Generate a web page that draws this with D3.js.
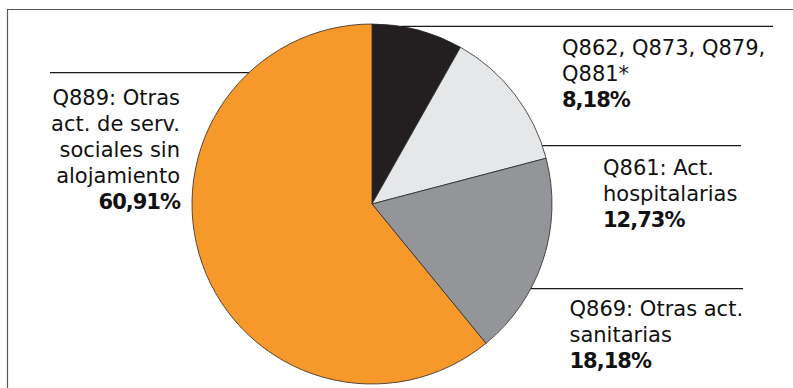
<!DOCTYPE html>
<html lang="es">
<head>
<meta charset="utf-8">
<script src="https://cdn.jsdelivr.net/npm/d3@7"></script>
<style>
  html, body { margin: 0; padding: 0; background: #fff; }
  svg { display: block; }
  .lbl { font-family: "DejaVu Sans", sans-serif; font-size: 21px; fill: #111; }
  .lbl .pct { font-weight: bold; letter-spacing: -1px; }
</style>
</head>
<body>
<svg id="chart" width="793" height="388"></svg>
<script>
// Distribución por ramas de actividad (CNAE)
const categories = ["Q862-Q881", "Q861", "Q869", "Q889"];
const labelLines = [
  ["Q862, Q873, Q879,", "Q881*"],
  ["Q861: Act.", "hospitalarias"],
  ["Q869: Otras act.", "sanitarias"],
  ["Q889: Otras", "act. de serv.", "sociales sin", "alojamiento"]
];
const shares = [8.18, 12.73, 18.18, 60.91];

const colors = d3.scaleOrdinal()
  .domain(categories)
  .range(["#231f20", "#e6e7e8", "#939598", "#f7992a"]);

const es = d3.formatLocale({ decimal: ",", thousands: ".", grouping: [3], currency: ["", " €"] });
const fmtPct = v => es.format(".2f")(v) + "%";

const svg = d3.select("#chart");
const W = 793, H = 388;

// frame: left and top edges
svg.append("path")
  .attr("d", `M7.5,${H} V9.5 H${W}`)
  .attr("fill", "none")
  .attr("stroke", "#555")
  .attr("stroke-width", 1.2);

const cx = 372, cy = 204, R = 180;

const pie = d3.pie().sort(null).value(d => d).startAngle(0).endAngle(2 * Math.PI);
const arc = d3.arc().innerRadius(0).outerRadius(R);
const arcs = pie(shares);

const g = svg.append("g").attr("transform", `translate(${cx},${cy})`);
g.selectAll("path.slice")
  .data(arcs)
  .join("path")
  .attr("class", "slice")
  .attr("d", arc)
  .attr("fill", (d, i) => colors(categories[i]))
  .attr("stroke", "#2a2a2a")
  .attr("stroke-width", 0.8)
  .attr("stroke-linejoin", "round");

// label layout: leader line height, outer end, text anchor, first baseline
const layout = [
  { lineY: 26.3, side: "right", outer: 773, x: 562, y: 55.3, anchor: "start" },
  { lineY: 145.7, side: "right", outer: 741, x: 603, y: 175.3, anchor: "start" },
  { lineY: 288.7, side: "right", outer: 743, x: 569.5, y: 316, anchor: "start" },
  { lineY: 72.7, side: "left", outer: 50, x: 180, y: 105.3, anchor: "end" }
];
const lineH = 25.8;

// leader lines start where they meet the circle edge
layout.forEach((L, i) => {
  const dy = L.lineY - cy;
  const dx = Math.sqrt(Math.max(0, R * R - dy * dy));
  const edgeX = L.side === "right" ? cx + dx : cx - dx;
  svg.append("line")
    .attr("x1", edgeX).attr("x2", L.outer)
    .attr("y1", L.lineY).attr("y2", L.lineY)
    .attr("stroke", "#1a1a1a")
    .attr("stroke-width", 1.2);

  const t = svg.append("text")
    .attr("class", "lbl")
    .attr("text-anchor", L.anchor);
  const lines = labelLines[i];
  lines.forEach((s, k) => {
    t.append("tspan").attr("x", L.x).attr("y", L.y + k * lineH).text(s);
  });
  t.append("tspan")
    .attr("class", "pct")
    .attr("x", L.x).attr("y", L.y + lines.length * lineH)
    .text(fmtPct(shares[i]));
});
</script>
</body>
</html>
